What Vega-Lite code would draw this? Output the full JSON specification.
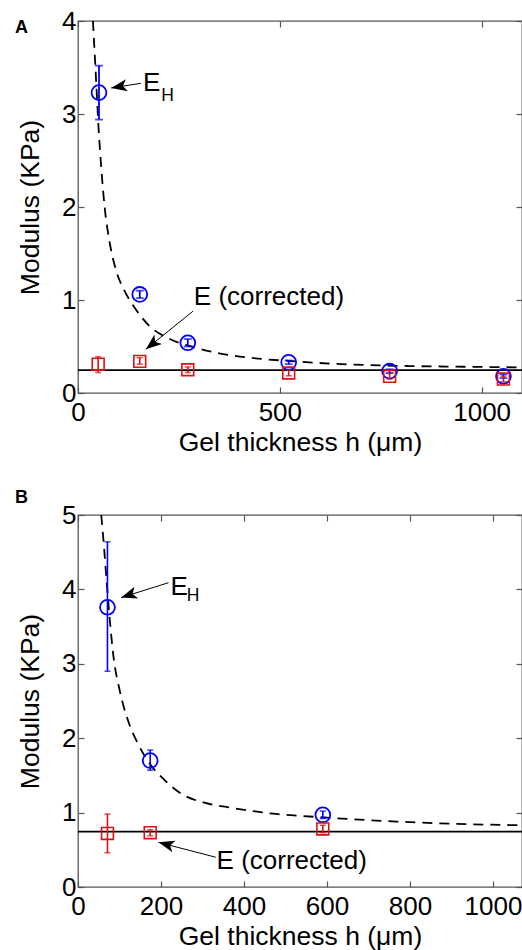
{
  "$schema": "https://vega.github.io/schema/vega-lite/v6.json",
  "background": "white",
  "padding": {"left": 14, "top": 7, "right": 0, "bottom": 0},
  "spacing": 31,
  "config": {
    "font": "Liberation Sans",
    "view": {"stroke": "#555555", "strokeWidth": 1.3},
    "axis": {
      "domain": false, "grid": false, "ticks": true,
      "tickColor": "#555555", "tickSize": -6, "tickWidth": 1.2,
      "labelFont": "Liberation Sans", "labelFontSize": 26, "labelColor": "black",
      "labelFlush": false, "labelOverlap": false,
      "titleFont": "Liberation Sans", "titleFontSize": 26.5, "titleFontWeight": "normal",
      "titleColor": "black", "format": "d"
    },
    "axisX": {"labelPadding": 12, "titlePadding": 4},
    "axisY": {"labelPadding": 8, "titlePadding": 17}
  },
  "datasets": {
    "aCurve": [
      {"h": 37, "E": 4.0}, {"h": 45, "E": 3.35}, {"h": 51, "E": 2.85}, {"h": 58, "E": 2.4},
      {"h": 66, "E": 2.0}, {"h": 78, "E": 1.63}, {"h": 95, "E": 1.31}, {"h": 115, "E": 1.1},
      {"h": 140, "E": 0.92}, {"h": 177, "E": 0.72}, {"h": 223, "E": 0.59}, {"h": 289, "E": 0.49},
      {"h": 347, "E": 0.43}, {"h": 446, "E": 0.37}, {"h": 522, "E": 0.345}, {"h": 629, "E": 0.315},
      {"h": 720, "E": 0.3}, {"h": 819, "E": 0.29}, {"h": 900, "E": 0.285}, {"h": 1000, "E": 0.28},
      {"h": 1100, "E": 0.275}
    ],
    "aLine": [{"E": 0.245}],
    "aH": [
      {"h": 52, "E": 3.23, "lo": 2.94, "hi": 3.52},
      {"h": 153, "E": 1.06, "lo": 1.02, "hi": 1.1},
      {"h": 272, "E": 0.54, "lo": 0.5, "hi": 0.58},
      {"h": 522, "E": 0.33, "lo": 0.31, "hi": 0.35},
      {"h": 772, "E": 0.235, "lo": 0.215, "hi": 0.255},
      {"h": 1054, "E": 0.18, "lo": 0.16, "hi": 0.2}
    ],
    "aC": [
      {"h": 50, "E": 0.31, "lo": 0.22, "hi": 0.39},
      {"h": 153, "E": 0.34, "lo": 0.31, "hi": 0.38},
      {"h": 272, "E": 0.25, "lo": 0.22, "hi": 0.28},
      {"h": 522, "E": 0.215, "lo": 0.185, "hi": 0.245},
      {"h": 772, "E": 0.18, "lo": 0.15, "hi": 0.21},
      {"h": 1054, "E": 0.15, "lo": 0.12, "hi": 0.18}
    ],
    "aArrows": [
      {"name": "EH", "x1": 156, "y1": 3.33, "x2": 82, "y2": 3.28},
      {"name": "EC", "x1": 285, "y1": 0.88, "x2": 168, "y2": 0.47}
    ],
    "aText": [
      {"h": 161, "E": 3.25, "label": "E"},
      {"h": 287, "E": 0.95, "label": "E (corrected)"}
    ],
    "aSub": [{"h": 206, "E": 3.14, "label": "H"}],
    "bCurve": [
      {"h": 56, "E": 5.0}, {"h": 63, "E": 4.55}, {"h": 69, "E": 4.11}, {"h": 77, "E": 3.57},
      {"h": 85, "E": 3.12}, {"h": 101, "E": 2.63}, {"h": 121, "E": 2.23}, {"h": 145, "E": 1.92},
      {"h": 174, "E": 1.65}, {"h": 210, "E": 1.43}, {"h": 250, "E": 1.25}, {"h": 307, "E": 1.13},
      {"h": 363, "E": 1.07}, {"h": 436, "E": 1.01}, {"h": 470, "E": 0.985}, {"h": 540, "E": 0.955},
      {"h": 663, "E": 0.91}, {"h": 767, "E": 0.88}, {"h": 900, "E": 0.85}, {"h": 1070, "E": 0.83}
    ],
    "bLine": [{"E": 0.745}],
    "bH": [
      {"h": 71, "E": 3.76, "lo": 2.9, "hi": 4.64},
      {"h": 174, "E": 1.7, "lo": 1.57, "hi": 1.84},
      {"h": 590, "E": 0.97, "lo": 0.92, "hi": 1.02}
    ],
    "bC": [
      {"h": 71, "E": 0.72, "lo": 0.46, "hi": 0.98},
      {"h": 174, "E": 0.73, "lo": 0.69, "hi": 0.77},
      {"h": 590, "E": 0.78, "lo": 0.73, "hi": 0.83}
    ],
    "bArrows": [
      {"name": "EH", "x1": 218, "y1": 4.09, "x2": 104, "y2": 3.89},
      {"name": "EC", "x1": 332, "y1": 0.4, "x2": 194, "y2": 0.6}
    ],
    "bText": [
      {"h": 223, "E": 3.93, "label": "E"},
      {"h": 334, "E": 0.24, "label": "E (corrected)"}
    ],
    "bSub": [{"h": 262, "E": 3.85, "label": "H"}]
  },
  "vconcat": [
    {
      "width": 444, "height": 372,
      "title": {"text": "A", "anchor": "start", "frame": "group", "fontSize": 18, "fontWeight": "bold", "font": "Liberation Sans", "color": "black", "offset": 0, "dx": -63, "dy": 43, "baseline": "alphabetic"},
      "resolve": {"axis": {"x": "independent", "y": "independent"}},
      "layer": [
        {"data": {"name": "aCurve"}, "mark": {"type": "line", "color": "black", "strokeWidth": 1.8, "strokeDash": [10, 7], "interpolate": "monotone"},
         "encoding": {
           "x": {"field": "h", "type": "quantitative", "scale": {"domain": [0, 1100], "nice": false}, "axis": {"orient": "bottom", "values": [0, 500, 1000], "title": "Gel thickness h (μm)"}},
           "y": {"field": "E", "type": "quantitative", "scale": {"domain": [0, 4], "nice": false}, "axis": {"orient": "left", "values": [0, 1, 2, 3, 4], "title": "Modulus (KPa)"}}}},
        {"data": {"name": "aLine"}, "mark": {"type": "rule", "color": "black", "strokeWidth": 1.8},
         "encoding": {"y": {"field": "E", "type": "quantitative", "axis": null}}},
        {"data": {"name": "aH"}, "mark": {"type": "rule", "color": "#0000ff", "strokeWidth": 1.8},
         "encoding": {"x": {"field": "h", "type": "quantitative", "axis": null}, "y": {"field": "lo", "type": "quantitative", "axis": null}, "y2": {"field": "hi"}}},
        {"data": {"name": "aH"}, "mark": {"type": "tick", "orient": "horizontal", "color": "#0000ff", "size": 8, "thickness": 1.8},
         "encoding": {"x": {"field": "h", "type": "quantitative", "axis": null}, "y": {"field": "lo", "type": "quantitative", "axis": null}}},
        {"data": {"name": "aH"}, "mark": {"type": "tick", "orient": "horizontal", "color": "#0000ff", "size": 8, "thickness": 1.8},
         "encoding": {"x": {"field": "h", "type": "quantitative", "axis": null}, "y": {"field": "hi", "type": "quantitative", "axis": null}}},
        {"data": {"name": "aH"}, "mark": {"type": "point", "shape": "circle", "filled": false, "color": "#0000ff", "size": 220, "strokeWidth": 1.8, "opacity": 1},
         "encoding": {
           "x": {"field": "h", "type": "quantitative", "axis": {"orient": "top", "labels": false, "title": null, "values": [0, 500, 1000]}},
           "y": {"field": "E", "type": "quantitative", "axis": {"orient": "right", "labels": false, "title": null, "values": [0, 1, 2, 3, 4]}}}},
        {"data": {"name": "aC"}, "mark": {"type": "rule", "color": "#dd1111", "strokeWidth": 1.6},
         "encoding": {"x": {"field": "h", "type": "quantitative", "axis": null}, "y": {"field": "lo", "type": "quantitative", "axis": null}, "y2": {"field": "hi"}}},
        {"data": {"name": "aC"}, "mark": {"type": "tick", "orient": "horizontal", "color": "#dd1111", "size": 6, "thickness": 1.6},
         "encoding": {"x": {"field": "h", "type": "quantitative", "axis": null}, "y": {"field": "lo", "type": "quantitative", "axis": null}}},
        {"data": {"name": "aC"}, "mark": {"type": "tick", "orient": "horizontal", "color": "#dd1111", "size": 6, "thickness": 1.6},
         "encoding": {"x": {"field": "h", "type": "quantitative", "axis": null}, "y": {"field": "hi", "type": "quantitative", "axis": null}}},
        {"data": {"name": "aC"}, "mark": {"type": "point", "shape": "square", "filled": false, "color": "#dd1111", "size": 140, "strokeWidth": 1.6, "opacity": 1},
         "encoding": {"x": {"field": "h", "type": "quantitative", "axis": null}, "y": {"field": "E", "type": "quantitative", "axis": null}}},
        {"data": {"name": "aArrows"}, "mark": {"type": "rule", "color": "black", "strokeWidth": 1},
         "encoding": {"x": {"field": "x1", "type": "quantitative", "axis": null}, "y": {"field": "y1", "type": "quantitative", "axis": null}, "x2": {"field": "x2"}, "y2": {"field": "y2"}}},
        {"data": {"name": "aArrows"}, "transform": [{"filter": "datum.name === 'EH'"}],
         "mark": {"type": "point", "shape": "M0,0L-1,-0.38L-0.75,0L-1,0.38Z", "filled": true, "color": "black", "size": 1024, "angle": 170.5, "opacity": 1},
         "encoding": {"x": {"field": "x2", "type": "quantitative", "axis": null}, "y": {"field": "y2", "type": "quantitative", "axis": null}}},
        {"data": {"name": "aArrows"}, "transform": [{"filter": "datum.name === 'EC'"}],
         "mark": {"type": "point", "shape": "M0,0L-1,-0.38L-0.75,0L-1,0.38Z", "filled": true, "color": "black", "size": 1024, "angle": 141, "opacity": 1},
         "encoding": {"x": {"field": "x2", "type": "quantitative", "axis": null}, "y": {"field": "y2", "type": "quantitative", "axis": null}}},
        {"data": {"name": "aText"}, "mark": {"type": "text", "align": "left", "baseline": "alphabetic", "fontSize": 26, "font": "Liberation Sans", "color": "black"},
         "encoding": {"x": {"field": "h", "type": "quantitative", "axis": null}, "y": {"field": "E", "type": "quantitative", "axis": null}, "text": {"field": "label"}}},
        {"data": {"name": "aSub"}, "mark": {"type": "text", "align": "left", "baseline": "alphabetic", "fontSize": 17.5, "font": "Liberation Sans", "color": "black"},
         "encoding": {"x": {"field": "h", "type": "quantitative", "axis": null}, "y": {"field": "E", "type": "quantitative", "axis": null}, "text": {"field": "label"}}}
      ]
    },
    {
      "width": 444, "height": 372,
      "title": {"text": "B", "anchor": "start", "frame": "group", "fontSize": 18, "fontWeight": "bold", "font": "Liberation Sans", "color": "black", "offset": 0, "dx": -63, "dy": 19, "baseline": "alphabetic"},
      "resolve": {"axis": {"x": "independent", "y": "independent"}},
      "layer": [
        {"data": {"name": "bCurve"}, "mark": {"type": "line", "color": "black", "strokeWidth": 1.8, "strokeDash": [10, 7], "interpolate": "monotone"},
         "encoding": {
           "x": {"field": "h", "type": "quantitative", "scale": {"domain": [0, 1070], "nice": false}, "axis": {"orient": "bottom", "values": [0, 200, 400, 600, 800, 1000], "title": "Gel thickness h (μm)"}},
           "y": {"field": "E", "type": "quantitative", "scale": {"domain": [0, 5], "nice": false}, "axis": {"orient": "left", "values": [0, 1, 2, 3, 4, 5], "title": "Modulus (KPa)"}}}},
        {"data": {"name": "bLine"}, "mark": {"type": "rule", "color": "black", "strokeWidth": 1.8},
         "encoding": {"y": {"field": "E", "type": "quantitative", "axis": null}}},
        {"data": {"name": "bH"}, "mark": {"type": "rule", "color": "#0000ff", "strokeWidth": 1.6},
         "encoding": {"x": {"field": "h", "type": "quantitative", "axis": null}, "y": {"field": "lo", "type": "quantitative", "axis": null}, "y2": {"field": "hi"}}},
        {"data": {"name": "bH"}, "mark": {"type": "tick", "orient": "horizontal", "color": "#0000ff", "size": 6, "thickness": 1.6},
         "encoding": {"x": {"field": "h", "type": "quantitative", "axis": null}, "y": {"field": "lo", "type": "quantitative", "axis": null}}},
        {"data": {"name": "bH"}, "mark": {"type": "tick", "orient": "horizontal", "color": "#0000ff", "size": 6, "thickness": 1.6},
         "encoding": {"x": {"field": "h", "type": "quantitative", "axis": null}, "y": {"field": "hi", "type": "quantitative", "axis": null}}},
        {"data": {"name": "bH"}, "mark": {"type": "point", "shape": "circle", "filled": false, "color": "#0000ff", "size": 220, "strokeWidth": 1.8, "opacity": 1},
         "encoding": {
           "x": {"field": "h", "type": "quantitative", "axis": {"orient": "top", "labels": false, "title": null, "values": [0, 200, 400, 600, 800, 1000]}},
           "y": {"field": "E", "type": "quantitative", "axis": {"orient": "right", "labels": false, "title": null, "values": [0, 1, 2, 3, 4, 5]}}}},
        {"data": {"name": "bC"}, "mark": {"type": "rule", "color": "#dd1111", "strokeWidth": 1.6},
         "encoding": {"x": {"field": "h", "type": "quantitative", "axis": null}, "y": {"field": "lo", "type": "quantitative", "axis": null}, "y2": {"field": "hi"}}},
        {"data": {"name": "bC"}, "mark": {"type": "tick", "orient": "horizontal", "color": "#dd1111", "size": 6, "thickness": 1.6},
         "encoding": {"x": {"field": "h", "type": "quantitative", "axis": null}, "y": {"field": "lo", "type": "quantitative", "axis": null}}},
        {"data": {"name": "bC"}, "mark": {"type": "tick", "orient": "horizontal", "color": "#dd1111", "size": 6, "thickness": 1.6},
         "encoding": {"x": {"field": "h", "type": "quantitative", "axis": null}, "y": {"field": "hi", "type": "quantitative", "axis": null}}},
        {"data": {"name": "bC"}, "mark": {"type": "point", "shape": "square", "filled": false, "color": "#dd1111", "size": 140, "strokeWidth": 1.6, "opacity": 1},
         "encoding": {"x": {"field": "h", "type": "quantitative", "axis": null}, "y": {"field": "E", "type": "quantitative", "axis": null}}},
        {"data": {"name": "bArrows"}, "mark": {"type": "rule", "color": "black", "strokeWidth": 1},
         "encoding": {"x": {"field": "x1", "type": "quantitative", "axis": null}, "y": {"field": "y1", "type": "quantitative", "axis": null}, "x2": {"field": "x2"}, "y2": {"field": "y2"}}},
        {"data": {"name": "bArrows"}, "transform": [{"filter": "datum.name === 'EH'"}],
         "mark": {"type": "point", "shape": "M0,0L-1,-0.38L-0.75,0L-1,0.38Z", "filled": true, "color": "black", "size": 1024, "angle": 162, "opacity": 1},
         "encoding": {"x": {"field": "x2", "type": "quantitative", "axis": null}, "y": {"field": "y2", "type": "quantitative", "axis": null}}},
        {"data": {"name": "bArrows"}, "transform": [{"filter": "datum.name === 'EC'"}],
         "mark": {"type": "point", "shape": "M0,0L-1,-0.38L-0.75,0L-1,0.38Z", "filled": true, "color": "black", "size": 1024, "angle": 195, "opacity": 1},
         "encoding": {"x": {"field": "x2", "type": "quantitative", "axis": null}, "y": {"field": "y2", "type": "quantitative", "axis": null}}},
        {"data": {"name": "bText"}, "mark": {"type": "text", "align": "left", "baseline": "alphabetic", "fontSize": 26, "font": "Liberation Sans", "color": "black"},
         "encoding": {"x": {"field": "h", "type": "quantitative", "axis": null}, "y": {"field": "E", "type": "quantitative", "axis": null}, "text": {"field": "label"}}},
        {"data": {"name": "bSub"}, "mark": {"type": "text", "align": "left", "baseline": "alphabetic", "fontSize": 17.5, "font": "Liberation Sans", "color": "black"},
         "encoding": {"x": {"field": "h", "type": "quantitative", "axis": null}, "y": {"field": "E", "type": "quantitative", "axis": null}, "text": {"field": "label"}}}
      ]
    }
  ]
}
